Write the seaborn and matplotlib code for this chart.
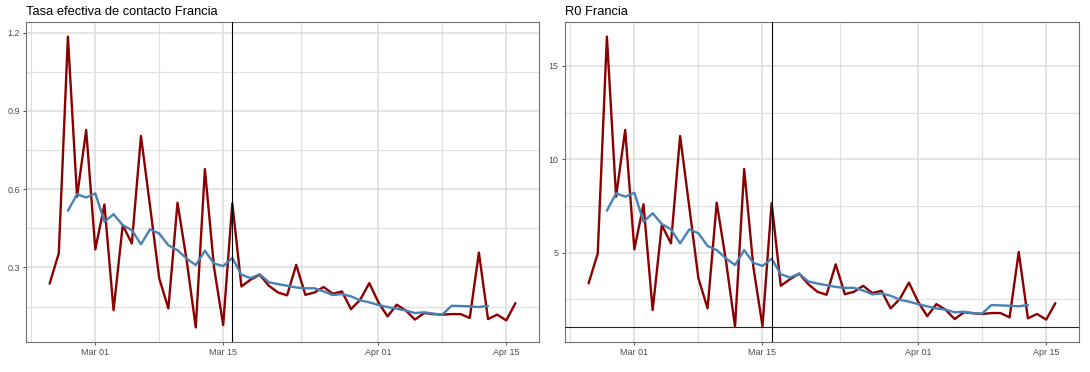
import pandas as pd
import matplotlib
matplotlib.use("Agg")
import matplotlib.pyplot as plt
import matplotlib.dates as mdates
import seaborn as sns

# daily values, Feb 25 - Apr 16 2020
fechas = pd.date_range("2020-02-25", "2020-04-16", freq="D")
# 7 day mean, Feb 27 - Apr 13 2020
fechas_media = pd.date_range("2020-02-27", "2020-04-13", freq="D")

tasa = [0.238, 0.354, 1.185, 0.571, 0.827, 0.369, 0.541, 0.136, 0.462, 0.392,
        0.804, 0.533, 0.258, 0.143, 0.548, 0.328, 0.070, 0.677, 0.300, 0.079,
        0.546, 0.227, 0.253, 0.272, 0.230, 0.204, 0.193, 0.310, 0.195, 0.204,
        0.225, 0.199, 0.208, 0.140, 0.176, 0.240, 0.166, 0.112, 0.157, 0.135,
        0.100, 0.125, 0.121, 0.119, 0.121, 0.121, 0.106, 0.357, 0.102, 0.119,
        0.097, 0.163]
tasa_media = [0.517, 0.581, 0.568, 0.584, 0.475, 0.504, 0.462, 0.443, 0.389, 0.446,
              0.430, 0.385, 0.366, 0.334, 0.309, 0.364, 0.315, 0.305, 0.336, 0.272,
              0.259, 0.274, 0.243, 0.236, 0.230, 0.223, 0.220, 0.220, 0.208, 0.194,
              0.198, 0.189, 0.174, 0.166, 0.156, 0.148, 0.142, 0.135, 0.125, 0.128,
              0.123, 0.119, 0.153, 0.152, 0.151, 0.148, 0.153]

r0 = [3.36, 4.96, 16.57, 8.00, 11.57, 5.18, 7.59, 1.93, 6.48, 5.50,
      11.25, 7.46, 3.63, 2.02, 7.68, 4.60, 1.04, 9.48, 4.25, 1.07,
      7.66, 3.23, 3.58, 3.88, 3.32, 2.91, 2.75, 4.38, 2.78, 2.91,
      3.23, 2.84, 2.96, 2.02, 2.52, 3.40, 2.38, 1.60, 2.25, 1.95,
      1.45, 1.81, 1.76, 1.72, 1.77, 1.77, 1.54, 5.04, 1.49, 1.72,
      1.42, 2.30]
r0_media = [7.25, 8.18, 8.00, 8.21, 6.66, 7.11, 6.54, 6.25, 5.50, 6.25,
            6.04, 5.36, 5.14, 4.70, 4.34, 5.14, 4.46, 4.29, 4.68, 3.85,
            3.67, 3.88, 3.46, 3.35, 3.26, 3.17, 3.12, 3.12, 2.98, 2.77,
            2.82, 2.70, 2.48, 2.38, 2.25, 2.13, 2.02, 1.95, 1.81, 1.84,
            1.77, 1.74, 2.20, 2.18, 2.16, 2.13, 2.20]

titulos = ["Tasa efectiva de contacto Francia", "R0 Francia"]
fecha_medida = pd.Timestamp("2020-03-16")

sns.set_theme(style="white")
plt.rcParams["font.family"] = ["Liberation Sans", "DejaVu Sans"]

fig = plt.figure(figsize=(10.9, 3.72), dpi=100)
ax1 = fig.add_axes([0.0239, 0.0806, 0.4706, 0.8602])
ax2 = fig.add_axes([0.5183, 0.0806, 0.4716, 0.8602])

paneles = [(ax1, tasa, tasa_media, [0.3, 0.6, 0.9, 1.2], [0.15, 0.45, 0.75, 1.05], (0.014, 1.241)),
           (ax2, r0, r0_media, [5, 10, 15], [2.5, 7.5, 12.5], (0.22, 17.35))]

xmayor = [pd.Timestamp(d) for d in ["2020-03-01", "2020-03-15", "2020-04-01", "2020-04-15"]]
xmenor = [pd.Timestamp(d) for d in ["2020-02-23", "2020-03-08", "2020-03-23 12:00", "2020-04-08"]]

for i, (ax, diario, media, yt, ymin_t, ylim) in enumerate(paneles):
    sns.lineplot(x=fechas, y=diario, ax=ax, color="#8B0000", linewidth=1.7)
    sns.lineplot(x=fechas_media, y=media, ax=ax, color="#4682B4", linewidth=1.7)
    ax.axvline(fecha_medida, color="black", linewidth=0.8, zorder=3)
    if i == 1:
        ax.axhline(1, color="#222222", linewidth=0.8, zorder=3)

    ax.set_xlim(pd.Timestamp("2020-02-22 10:00"), pd.Timestamp("2020-04-18 14:00"))
    ax.set_ylim(*ylim)
    ax.set_yticks(yt)
    ax.set_yticks(ymin_t, minor=True)
    ax.set_xticks(xmayor)
    ax.set_xticks(xmenor, minor=True)
    ax.xaxis.set_major_formatter(mdates.DateFormatter("%b %d"))

    ax.grid(which="major", color="#DCDCDC", linewidth=1.1)
    ax.grid(which="minor", color="#E0E0E0", linewidth=0.9)
    ax.set_axisbelow(True)
    ax.tick_params(which="major", length=2.5, width=0.6, color="#333333",
                   labelsize=6.5, labelcolor="#4D4D4D", pad=2)
    ax.tick_params(which="minor", length=0)
    ax.tick_params(axis="x", bottom=True)
    ax.tick_params(axis="y", left=True)
    for s in ax.spines.values():
        s.set_color("#707070")
        s.set_linewidth(0.8)
    ax.set_xlabel("")
    ax.set_ylabel("")
    ax.set_title(titulos[i], loc="left", fontsize=9.3, color="black", pad=5)

fig.savefig("out.png", dpi=100)
